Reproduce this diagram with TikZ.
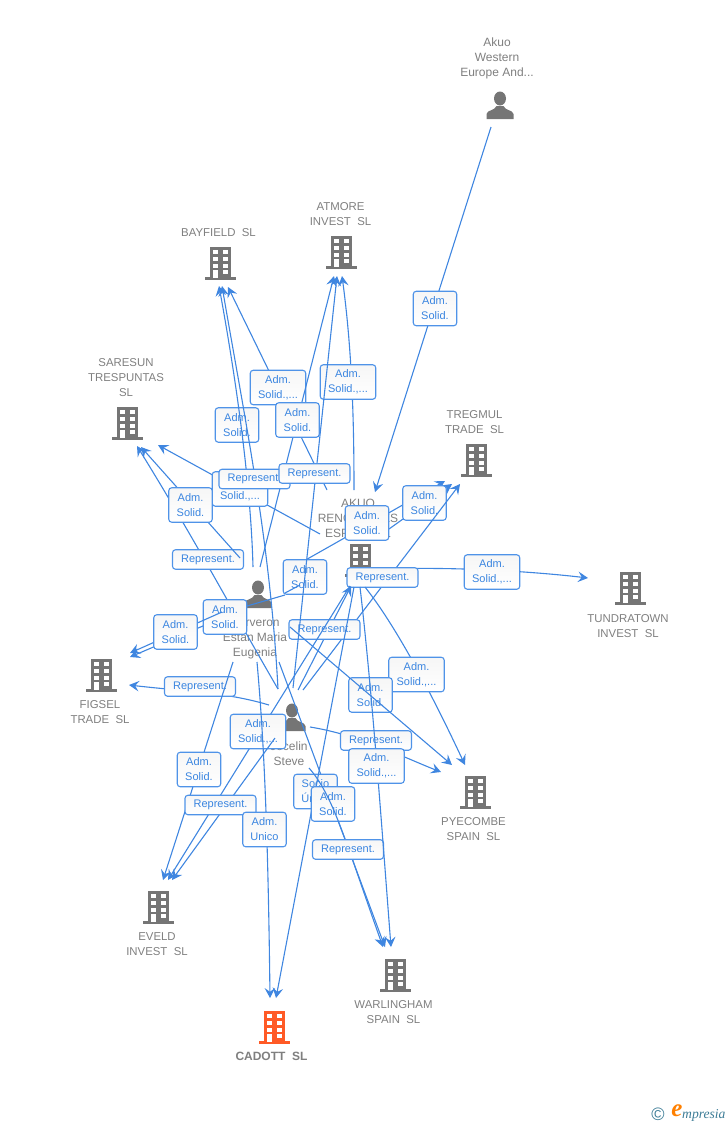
\documentclass[tikz,border=0pt]{standalone}
\usepackage{fontspec}
\setmainfont{Liberation Sans}
\newfontfamily\logofont{Liberation Serif}
\usetikzlibrary{arrows.meta}
\definecolor{linkblue}{HTML}{3F86E0}
\definecolor{boxblue}{HTML}{4F93E8}
\definecolor{textblue}{HTML}{3A85E0}
\definecolor{entgray}{HTML}{7F7F7F}
\definecolor{icongray}{HTML}{757575}
\definecolor{hotorange}{HTML}{FF5A26}
\definecolor{logoteal}{HTML}{3C7C96}
\tikzset{
  conn/.style={draw=linkblue,line width=1.1pt},
  arr/.style={conn,-{Stealth[length=10pt,width=10.5pt,inset=3.8pt]}},
  lab/.style={draw=boxblue,line width=1.1pt,rounded corners=3pt,top color=gray!7,bottom color=white,
    text=textblue,font=\fontsize{11}{15}\selectfont,align=center,inner sep=0pt,minimum height=34.5pt},
  labS/.style={lab,minimum width=43.5pt,text width=43pt},
  labL/.style={lab,minimum width=55.5pt,text width=55pt},
  labR/.style={lab,minimum width=71pt,minimum height=19.5pt,text width=70pt},
  ent/.style={text=entgray,font=\fontsize{11.4}{15}\selectfont,align=center,inner sep=0pt},
  per/.style={text=entgray,font=\fontsize{12}{15}\selectfont,align=center,inner sep=0pt},
  iconbox/.style={inner sep=0pt,minimum width=30pt,minimum height=34pt},
}
\newcommand{\bldg}[3]{%
  \node[iconbox] (#1) at (#2) {};
  \begin{scope}[shift={(#2)}]
    \fill[#3] (-10.5,-16) rectangle (11,15);
    \fill[#3] (-15.5,14) rectangle (15.5,17);
    \foreach \yy in {-13,-6,1,7}{
      \fill[white] (-7,\yy) rectangle (-2,\yy+4);
      \fill[white] (2.5,\yy) rectangle (7.5,\yy+4);
    }
    \fill[white] (-7,7) rectangle (-2,15);
  \end{scope}}
\newcommand{\pers}[2]{%
  \node[iconbox] (#1) at (#2) {};
  \begin{scope}[shift={(#2)}]
    \fill[icongray] (0,-7.5) ellipse (6 and 7);
    \fill[icongray] (-13.5,13) -- (-13.5,8) .. controls (-13,4) and (-5,4.5) .. (-3.5,0)
      -- (3.5,0) .. controls (5,4.5) and (13,4) .. (13.5,8) -- (13.5,13) -- cycle;
  \end{scope}}
\begin{document}
\begin{tikzpicture}[x=1pt,y=-1pt]
\useasboundingbox (0,0) rectangle (728,1125);
% entities
\pers{akuow}{500,106}
\pers{veron}{258,595}
\pers{jocelin}{292,718}
\bldg{bayfield}{220,263}{icongray}
\bldg{atmore}{341,252}{icongray}
\bldg{saresun}{127,423}{icongray}
\bldg{tregmul}{476,460}{icongray}
\bldg{akuor}{360,560}{icongray}
\bldg{tundra}{630,588}{icongray}
\bldg{figsel}{101,675}{icongray}
\bldg{pyecombe}{475,792}{icongray}
\bldg{eveld}{158,907}{icongray}
\bldg{warlingham}{395,975}{icongray}
\bldg{cadott}{274,1027}{hotorange}
\node[per] (takuow) at (497,58.5) {Akuo\\Western\\Europe And...};
\node[ent] (tbayfield) at (218.5,232.5) {BAYFIELD\ \ SL};
\node[ent] (tatmore) at (340.5,214.5) {ATMORE\\INVEST\ \ SL};
\node[ent] (tsaresun) at (126,377.5) {SARESUN\\TRESPUNTAS\\SL};
\node[ent] (ttregmul) at (474.5,422.5) {TREGMUL\\TRADE\ \ SL};
\node[per] (takuor) at (358,518.5) {AKUO\\RENOVABLES\\ESPAÑA SL};
\node[ent] (ttundra) at (628,626.5) {TUNDRATOWN\\INVEST\ \ SL};
\node[ent] (tfigsel) at (100,712.5) {FIGSEL\\TRADE\ \ SL};
\node[ent] (tpyecombe) at (473.5,829.5) {PYECOMBE\\SPAIN\ \ SL};
\node[ent] (teveld) at (157,944.5) {EVELD\\INVEST\ \ SL};
\node[ent] (twarlingham) at (393.5,1012.5) {WARLINGHAM\\SPAIN\ \ SL};
\node[ent,font=\fontsize{12}{15}\selectfont\bfseries] (tcadott) at (271.5,1056.5) {CADOTT\ \ SL};
\node[per] (tveron) at (255,638.5) {Cerveron\\Estan Maria\\Eugenia};
\node[per] (tjocelin) at (289,753.5) {Jocelin\\Steve};
% logo
\node[inner sep=0pt,text=logoteal,font=\fontsize{18}{18}\selectfont] (lcopy) at (658,1114) {©};
\node[inner sep=0pt,text=orange,font=\logofont\itshape\bfseries\fontsize{25}{25}\selectfont] (le) at (677,1111) {e};
\node[inner sep=0pt,text=logoteal,font=\logofont\itshape\fontsize{13.6}{14}\selectfont,anchor=west] (lm) at (682,1115) {mpresia};
% edges and labels
\draw[arr] ([shift={(-9,21)}]akuow.center) -- ([shift={(15,-68)}]akuor.center);
\node[labS] (l1) at (435,308.5) {Adm.\\Solid.};
\node[labS] (l2) at (237,425) {Adm.\\Solid.};
\draw[arr] ([shift={(-5,-28)}]veron.center) .. controls (251,490) and (238,390) .. ([shift={(-1,23)}]bayfield.center);
\draw[arr] ([shift={(-14,-29)}]jocelin.center) .. controls (270,540) and (245,420) .. ([shift={(2,23)}]bayfield.center);
\draw[arr] ([shift={(-33,-70)}]akuor.center) -- ([shift={(8,24)}]bayfield.center);
\node[labL] (l3) at (278,387.5) {Adm.\\Solid.,...};
\draw[arr] ([shift={(2,-28)}]veron.center) -- ([shift={(-7,24)}]atmore.center);
\node[labS] (l4) at (297.5,420) {Adm.\\Solid.};
\draw[arr] ([shift={(-6,-70)}]akuor.center) .. controls (354,420) and (352,350) .. ([shift={(1,24)}]atmore.center);
\node[labL] (l5) at (348,382) {Adm.\\Solid.,...};
\draw[arr] ([shift={(-40,-26)}]akuor.center) -- ([shift={(31,22)}]saresun.center);
\node[labL] (l6) at (240,489) {Adm.\\Solid.,...};
\node[labR] (l7) at (254.5,479) {Represent.};
\draw[arr] ([shift={(-14,-29)}]jocelin.center) .. controls (235,615) and (195,540) .. ([shift={(10,23)}]saresun.center);
\node[labR] (l8) at (208,559.5) {Represent.};
\draw[arr] ([shift={(-18,-37)}]veron.center) -- ([shift={(14,24)}]saresun.center);
\node[labS] (l9) at (190.5,505) {Adm.\\Solid.};
\draw[arr] ([shift={(37,-29)}]veron.center) -- ([shift={(-31,21)}]tregmul.center);
\node[labS] (l10) at (305,577) {Adm.\\Solid.};
\draw[arr] ([shift={(29,-31)}]akuor.center) -- ([shift={(-24,24)}]tregmul.center);
\node[labS] (l11) at (424.5,503) {Adm.\\Solid.};
\node[labS] (l12) at (367,523) {Adm.\\Solid.};
\draw[arr] ([shift={(15,10)}]akuor.center) .. controls (430,566) and (520,570) .. ([shift={(-42,-10)}]tundra.center);
\node[labL] (l13) at (492,572) {Adm.\\Solid.,...};
\draw[arr] ([shift={(11,-28)}]jocelin.center) -- ([shift={(-16,24)}]tregmul.center);
\node[labR] (l14) at (382.5,577.5) {Represent.};
\draw[arr] ([shift={(6,-28)}]jocelin.center) -- ([shift={(-9,26)}]akuor.center);
\node[labR] (l15) at (324.5,629.5) {Represent.};
\draw[arr] ([shift={(1,-30)}]jocelin.center) -- ([shift={(-4,24)}]atmore.center);
\node[labR] (l16) at (314.5,473.5) {Represent.};
\draw[arr] ([shift={(-34,22)}]veron.center) -- ([shift={(29,-18)}]figsel.center);
\draw[conn] ([shift={(-11,11)}]veron.center) -- ([shift={(27,0)}]veron.center);
\draw[conn] ([shift={(27,-2)}]veron.center) -- ([shift={(-60,25)}]akuor.center);
\node[labS] (l17) at (225,617) {Adm.\\Solid.};
\draw[arr] ([shift={(-36,17)}]veron.center) -- ([shift={(29,-22)}]figsel.center);
\node[labS] (l18) at (175.5,632) {Adm.\\Solid.};
\draw[arr] ([shift={(-23,-13)}]jocelin.center) .. controls (225,692) and (190,692) .. ([shift={(28,10)}]figsel.center);
\node[labR] (l19) at (200,686.5) {Represent.};
\draw[arr] ([shift={(-10,26)}]akuor.center) -- ([shift={(10,-27)}]eveld.center);
\node[labL] (l20) at (258,731.5) {Adm.\\Solid.,...};
\draw[arr] ([shift={(-25,67)}]veron.center) -- ([shift={(5,-27)}]eveld.center);
\node[labS] (l21) at (199,769.5) {Adm.\\Solid.};
\draw[arr] ([shift={(-17,20)}]jocelin.center) -- ([shift={(14,-27)}]eveld.center);
\node[labR] (l22) at (220.5,805) {Represent.};
\draw[arr] ([shift={(-1,67)}]veron.center) .. controls (264,740) and (268,830) .. ([shift={(-4,-29)}]cadott.center);
\node[labS] (l23) at (264.5,829.5) {Adm.\\Unico};
\draw[arr] ([shift={(21,67)}]veron.center) -- ([shift={(-10,-28)}]warlingham.center);
\node[labS] (l24) at (315.5,791.5) {Socio\\Único};
\draw[arr] ([shift={(-6,27)}]akuor.center) -- ([shift={(2,-29)}]cadott.center);
\node[labS] (l25) at (333,804) {Adm.\\Solid.};
\draw[arr] ([shift={(17,50)}]jocelin.center) .. controls (333,795) and (345,840) .. ([shift={(-12,-28)}]warlingham.center);
\node[labR] (l26) at (348,849.5) {Represent.};
\draw[arr] ([shift={(5,27)}]akuor.center) .. controls (395,625) and (430,690) .. ([shift={(-10,-27)}]pyecombe.center);
\node[labL] (l27) at (416.5,674.5) {Adm.\\Solid.,...};
\node[labS] (l28) at (370.5,695) {Adm.\\Solid.};
\draw[arr] ([shift={(32,32)}]veron.center) -- ([shift={(-23,-27)}]pyecombe.center);
\draw[arr] ([shift={(18,9)}]jocelin.center) .. controls (360,735) and (405,758) .. ([shift={(-34,-20)}]pyecombe.center);
\node[labR] (l29) at (376,740.5) {Represent.};
\draw[arr] ([shift={(0,27)}]akuor.center) .. controls (372,690) and (382,830) .. ([shift={(-4,-28)}]warlingham.center);
\node[labL] (l30) at (376.5,766) {Adm.\\Solid.,...};
\end{tikzpicture}
\end{document}
